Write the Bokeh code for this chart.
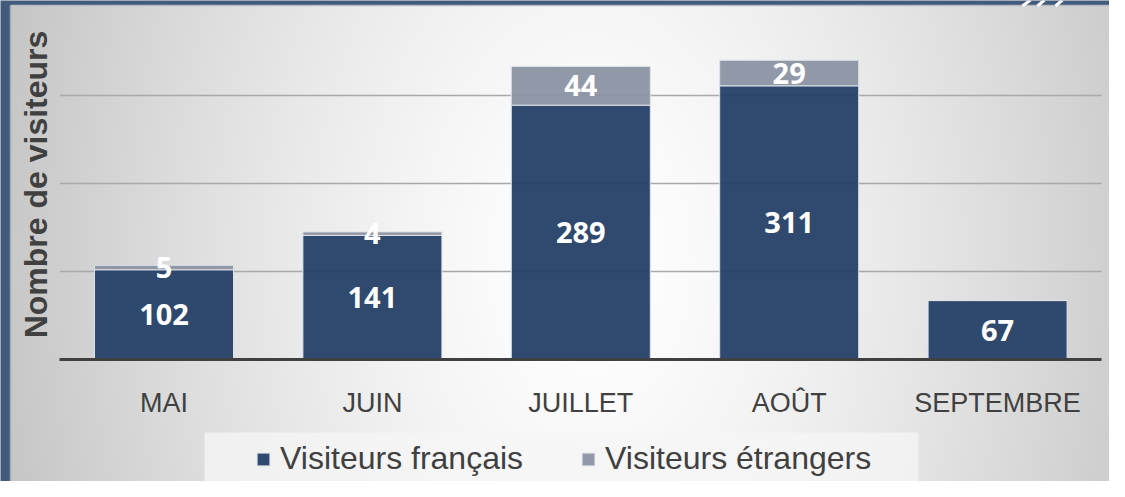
import numpy as np
from bokeh.plotting import figure
from bokeh.models import (ColumnDataSource, Range1d, FixedTicker, LinearAxis,
                          Legend, LegendItem)
from bokeh.core.properties import value
from bokeh.embed import file_html
from bokeh.resources import INLINE

# ---------------- data ----------------
months = ["MAI", "JUIN", "JUILLET", "AOÛT", "SEPTEMBRE"]
francais = [102, 141, 289, 311, 67]
etrangers = [5, 4, 44, 29, 0]
series_names = ["Visiteurs français", "Visiteurs étrangers"]
grid_values = [100, 200, 300]

# ---------------- styles ----------------
NAVY = "#264269"
GRAY = "#8d94a4"
FRAME_BLUE = "#425a7b"
TEXT_GRAY = "#404040"

W, H = 1109, 481
x_start, x_end = -0.7846, 4.537
y_start, y_end = -138.6, 407.95


def sx(px):
    return x_start + px / W * (x_end - x_start)


def sy(py):
    return y_end - py / H * (y_end - y_start)


p = figure(width=W, height=H, output_backend="svg", toolbar_location=None,
           x_range=Range1d(x_start, x_end), y_range=Range1d(y_start, y_end),
           x_axis_type=None, y_axis_type=None, title=None,
           min_border=0, min_border_left=0, min_border_right=0,
           min_border_top=0, min_border_bottom=0)
p.outline_line_color = None
p.background_fill_color = FRAME_BLUE
p.border_fill_color = FRAME_BLUE
p.grid.visible = False

# ---------------- panel gradient background ----------------
px0, px1, py0, py1 = 10, 1109, 5, 481
step = 2
gx = np.arange(px0, px1, step) + step / 2
gy = np.arange(py1, py0, -step) - step / 2   # bottom row first
X, Y = np.meshgrid(gx, gy)
r = np.sqrt(((X - 590) / 560.0) ** 2 + ((Y - 260) / 850.0) ** 2)
b = np.clip(255 - 52 * r ** 1.4, 185, 255).astype(np.uint8)
img = np.empty(b.shape, dtype=np.uint32)
v = img.view(dtype=np.uint8).reshape(b.shape + (4,))
v[..., 0] = b
v[..., 1] = b
v[..., 2] = b
v[..., 3] = 255
p.image_rgba(image=[img], x=sx(px0), y=sy(py1), dw=sx(px1) - sx(px0), dh=sy(py0) - sy(py1))

# thin panel edge
p.segment(x0=[sx(10)], x1=[sx(10)], y0=[sy(5)], y1=[sy(481)], line_color="#a8acb2", line_width=1.5)
p.segment(x0=[sx(10)], x1=[sx(1109)], y0=[sy(5)], y1=[sy(5)], line_color="#b8bcc2", line_width=1.5)

# decorative white strokes in the top-right frame
p.segment(x0=[sx(1022), sx(1037), sx(1055)], x1=[sx(1030), sx(1044), sx(1062)],
          y0=[sy(5.5)] * 3, y1=[sy(-0.5)] * 3, line_color="white", line_width=3)

# legend background box
p.quad(left=[sx(204)], right=[sx(918)], top=[sy(432)], bottom=[sy(486)],
       fill_color="#f5f5f5", fill_alpha=0.75, line_color=None)

# ---------------- grid lines ----------------
n = len(months)
p.segment(x0=[-0.5] * len(grid_values), x1=[n - 0.5] * len(grid_values),
          y0=grid_values, y1=grid_values, line_color="#a9a9a9", line_width=1.5)

# ---------------- bars ----------------
idx = list(range(n))
src = ColumnDataSource(dict(x=idx, fr=francais, et=etrangers))
rs = p.vbar_stack(["fr", "et"], x="x", width=0.667, source=src,
                  fill_color=[NAVY, GRAY], fill_alpha=0.96,
                  line_color="#dde2e8", line_width=1)

# ---------------- data labels ----------------
fr_arr = np.array(francais, dtype=float)
et_arr = np.array(etrangers, dtype=float)
lab_x = idx + [i for i in idx if etrangers[i] > 0]
lab_y = list(fr_arr / 2) + [fr_arr[i] + et_arr[i] / 2 for i in idx if etrangers[i] > 0]
lab_t = [str(v_) for v_ in francais] + [str(etrangers[i]) for i in idx if etrangers[i] > 0]
p.text(x=lab_x, y=lab_y, text=lab_t, text_align="center", text_baseline="middle",
       text_font=value("Open Sans"), text_font_style="bold", text_font_size="29px",
       text_color="white")

# ---------------- axes ----------------
xaxis = LinearAxis(ticker=FixedTicker(ticks=idx),
                   major_label_overrides={i: m for i, m in enumerate(months)},
                   fixed_location=0, bounds=(-0.5, n - 0.5))
xaxis.axis_line_color = TEXT_GRAY
xaxis.axis_line_width = 3
xaxis.major_tick_out = 0
xaxis.major_tick_in = 0
xaxis.minor_tick_out = 0
xaxis.minor_tick_in = 0
xaxis.major_label_text_font = "Liberation Sans"
xaxis.major_label_text_font_size = "27px"
xaxis.major_label_text_color = TEXT_GRAY
xaxis.major_label_standoff = 28
p.add_layout(xaxis, "below")

yaxis = LinearAxis(ticker=FixedTicker(ticks=[]), fixed_location=-0.5,
                   bounds=(0, 398), axis_label="Nombre de visiteurs")
yaxis.axis_line_color = None
yaxis.major_tick_out = 0
yaxis.minor_tick_out = 0
yaxis.major_label_text_font_size = "0px"
yaxis.axis_label_text_font = "Liberation Sans"
yaxis.axis_label_text_font_style = "bold"
yaxis.axis_label_text_font_size = "32px"
yaxis.axis_label_text_color = TEXT_GRAY
yaxis.axis_label_standoff = 6
p.add_layout(yaxis, "left")

# ---------------- legend ----------------
items = [LegendItem(label=series_names[i], renderers=[rs[i]]) for i in range(2)]
legend = Legend(items=items, orientation="horizontal", location=(255, 4),
                padding=0, margin=0, spacing=50, glyph_width=16, glyph_height=16,
                label_standoff=9, label_width=250,
                label_text_font="Liberation Sans", label_text_font_size="32px",
                label_text_color=TEXT_GRAY, background_fill_alpha=0,
                border_line_color=None)
p.add_layout(legend)

open("out.html", "w").write(file_html(p, INLINE))
